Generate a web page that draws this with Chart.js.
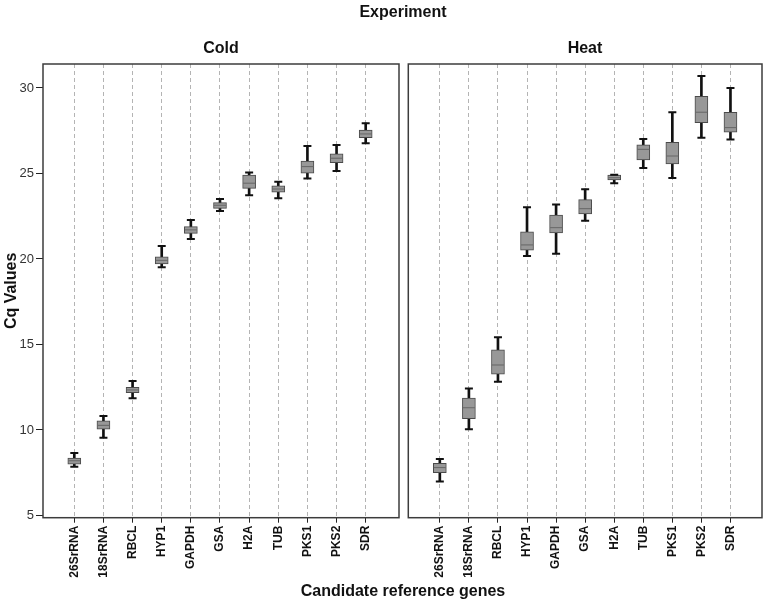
<!DOCTYPE html>
<html>
<head>
<meta charset="utf-8">
<script src="https://cdn.jsdelivr.net/npm/chart.js@4"></script>
<style>
  body { margin: 0; background: #fff; }
  #wrap { position: relative; width: 769px; height: 607px; font-family: 'Liberation Sans', Arial, sans-serif; }
  canvas { position: absolute; top: 0; }
  .t { position: absolute; transform: translate(-50%, -50%); white-space: nowrap; font-weight: bold; font-size: 16px; color: #111; }
</style>
</head>
<body>
<div id="wrap">
  <canvas id="cold" width="406" height="607" style="left:0"></canvas>
  <canvas id="heat" width="369" height="607" style="left:400px"></canvas>
  <div class="t" style="left:403px;top:12px">Experiment</div>
  <div class="t" style="left:221px;top:48px">Cold</div>
  <div class="t" style="left:585px;top:48px">Heat</div>
  <div class="t" style="left:403px;top:591px">Candidate reference genes</div>
</div>
<script>
Chart.defaults.font.family = "'Liberation Sans', Arial, sans-serif";
Chart.defaults.color = '#333';

const GENES = ['26SrRNA', '18SrRNA', 'RBCL', 'HYP1', 'GAPDH', 'GSA', 'H2A', 'TUB', 'PKS1', 'PKS2', 'SDR'];
const Y_TICKS = [5, 10, 15, 20, 25, 30];

// Cold: whisker low, Q1, median, Q3, whisker high
const COLD_MIN = [7.85, 9.55, 11.85, 19.51, 21.17, 22.81, 23.73, 23.55, 24.70, 25.15, 26.77];
const COLD_Q1  = [8.00, 10.04, 12.18, 19.71, 21.50, 22.96, 24.13, 23.90, 25.01, 25.63, 27.09];
const COLD_MED = [8.20, 10.27, 12.34, 19.92, 21.70, 23.14, 24.43, 24.09, 25.40, 25.89, 27.31];
const COLD_Q3  = [8.35, 10.53, 12.50, 20.13, 21.89, 23.29, 24.91, 24.27, 25.73, 26.14, 27.54];
const COLD_MAX = [8.65, 10.82, 12.87, 20.76, 22.28, 23.51, 25.05, 24.52, 26.61, 26.67, 27.94];

// Heat
const HEAT_MIN = [6.98, 10.04, 12.82, 20.18, 20.31, 22.24, 24.43, 25.32, 24.74, 27.09, 26.98];
const HEAT_Q1  = [7.50, 10.66, 13.27, 20.51, 21.52, 22.63, 24.62, 25.79, 25.56, 27.97, 27.41];
const HEAT_MED = [7.80, 11.30, 13.80, 20.82, 21.83, 22.94, 24.75, 26.41, 26.02, 28.58, 27.68];
const HEAT_Q3  = [8.05, 11.87, 14.68, 21.58, 22.57, 23.47, 24.91, 26.67, 26.82, 29.51, 28.58];
const HEAT_MAX = [8.30, 12.42, 15.42, 23.02, 23.18, 24.08, 24.93, 27.02, 28.58, 30.70, 30.00];

const frame = {
  id: 'frame',
  afterDraw(c) {
    const { ctx, chartArea: a } = c;
    ctx.save();
    ctx.strokeStyle = '#3c3c3c'; ctx.lineWidth = 1.5;
    ctx.strokeRect(a.left, a.top, a.right - a.left, a.bottom - a.top);
    ctx.restore();
  },
};

function boxDatasets(min, q1, med, q3, max) {
  const at = (arr) => arr.map((v, i) => ({ x: i, y: v }));
  return [
    { type: 'bar', data: GENES.map((_, i) => ({ x: i, y: [min[i], max[i]] })),
      barThickness: 2, backgroundColor: '#111', borderWidth: 0, grouped: false, order: 4 },
    { type: 'bar', data: GENES.map((_, i) => ({ x: i, y: [q1[i], q3[i]] })),
      barThickness: 13, backgroundColor: '#989898', borderColor: '#4a4a4a', borderWidth: 1,
      borderSkipped: false, grouped: false, order: 3 },
    { type: 'scatter', data: at(med), pointStyle: 'line', pointRadius: 6,
      pointBorderColor: '#666', pointBorderWidth: 1, order: 2 },
    { type: 'scatter', data: [...at(min), ...at(max)], pointStyle: 'line', pointRadius: 4,
      pointBorderColor: '#111', pointBorderWidth: 2, order: 1 },
  ];
}

function panel(id, sets, xMin, xMax, showY, padding) {
  return new Chart(document.getElementById(id), {
    type: 'bar',
    data: { datasets: sets },
    plugins: [frame],
    options: {
      responsive: false, animation: false, events: [], devicePixelRatio: 1,
      layout: { padding },
      plugins: { legend: { display: false }, tooltip: { enabled: false } },
      scales: {
        x: {
          type: 'linear', min: xMin, max: xMax, offset: false,
          afterBuildTicks: s => { s.ticks = GENES.map((_, i) => ({ value: i })); },
          afterFit: s => { s.height = 89.3; s.paddingLeft = 0; s.paddingRight = 0; },
          grid: { color: '#b4b4b4', offset: false, tickColor: '#222', tickLength: 5 },
          border: { display: false, dash: [4, 3] },
          ticks: {
            autoSkip: false, maxRotation: 90, minRotation: 90, padding: 3, color: '#111',
            font: { size: 12, weight: 'bold' }, callback: v => GENES[v],
          },
        },
        y: {
          display: showY, min: 4.87, max: 31.4,
          afterBuildTicks: s => { s.ticks = Y_TICKS.map(v => ({ value: v })); },
          afterFit: s => { s.width = showY ? 43 : 0; },
          grid: { drawOnChartArea: false, tickColor: '#222', tickLength: 7 },
          border: { display: false },
          ticks: { padding: 2, color: '#333', font: { size: 13 } },
          title: { display: true, text: 'Cq Values', color: '#111', padding: { top: 2, bottom: 0 },
            font: { size: 16, weight: 'bold' } },
        },
      },
    },
  });
}

panel('cold', boxDatasets(COLD_MIN, COLD_Q1, COLD_MED, COLD_Q3, COLD_MAX),
  -1.074, 11.143, true, { top: 64, right: 1, bottom: 0, left: 0 });
panel('heat', boxDatasets(HEAT_MIN, HEAT_Q1, HEAT_MED, HEAT_Q3, HEAT_MAX),
  -1.085, 11.085, false, { top: 64, right: 6.3, bottom: 0, left: 8.3 });
</script>
</body>
</html>
